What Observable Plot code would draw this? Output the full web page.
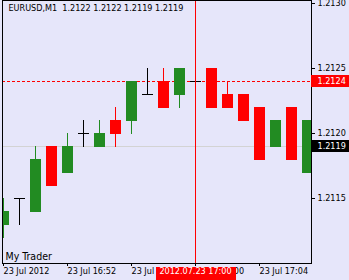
<!DOCTYPE html>
<html>
<head>
<meta charset="utf-8">
<script src="https://cdn.jsdelivr.net/npm/d3@7"></script>
<script src="https://cdn.jsdelivr.net/npm/@observablehq/plot@0.6"></script>
<style>
  html, body { margin: 0; padding: 0; background: #E6E6FA; }
  #chart svg { display: block; }
</style>
</head>
<body>
<div id="chart"></div>
<script>
// ---- data ----
const day = "2012-07-23";
const times = ["16:48","16:49","16:50","16:51","16:52","16:53","16:54","16:55","16:56","16:57",
               "16:58","16:59","17:00","17:01","17:02","17:03","17:04","17:05","17:06","17:07"];
const open  = [1.2113,1.2115,1.2114,1.2119,1.2117,1.2120,1.2119,1.2121,1.2121,1.2123,
               1.2124,1.2123,1.2124,1.2125,1.2123,1.2123,1.2122,1.2119,1.2122,1.2117];
const high  = [1.2115,1.2115,1.2119,1.2119,1.2120,1.2121,1.2121,1.2122,1.2124,1.2125,
               1.2125,1.2125,1.2124,1.2125,1.2124,1.2123,1.2122,1.2121,1.2122,1.2121];
const low   = [1.2112,1.2113,1.2114,1.2116,1.2117,1.2119,1.2119,1.2119,1.2120,1.2123,
               1.2122,1.2122,1.2124,1.2122,1.2122,1.2121,1.2118,1.2119,1.2118,1.2117];
const close = [1.2114,1.2115,1.2118,1.2116,1.2119,1.2120,1.2120,1.2120,1.2124,1.2123,
               1.2122,1.2125,1.2124,1.2122,1.2122,1.2121,1.2118,1.2121,1.2118,1.2121];
const yTicks = [1.2115, 1.2120, 1.2125, 1.2130];
const xTickTimes  = ["16:48","16:52","16:56","17:00","17:04"];
const xTickLabels = ["23 Jul 2012","23 Jul 16:52","23 Jul 16:56","23 Jul 17:00","23 Jul 17:04"];
const headerText = "EURUSD,M1  1.2122 1.2122 1.2119 1.2119";
const watermark = "My Trader";
const redLevel = 1.2124;   // dashed red line + red price label
const grayLevel = 1.2119;  // gray line + black price label
const cursorTime = "17:00";
const cursorLabel = "2012.07.23 17:00";
const yDomain = [1.2110, 1.2130];

// ---- build ----
const T = s => new Date(`${day}T${s}:00Z`);
const candles = times.map((t, i) => ({t: T(t), o: open[i], h: high[i], l: low[i], c: close[i]}));
const UP = "#228B22", DOWN = "#FF0000", FLAT = "#000000";
const color = d => d.c > d.o ? UP : d.c < d.o ? DOWN : FLAT;
const fmt = d3.format(".4f");
const labelMap = new Map(xTickTimes.map((s, i) => [+T(s), xTickLabels[i]]));
const crisp = {shapeRendering: "crispEdges"};

const W = 349, H = 280, mL = 2, mR = 38, mT = 0, mB = 17;

const chart = Plot.plot({
  width: W, height: H,
  marginLeft: mL, marginRight: mR, marginTop: mT, marginBottom: mB,
  style: {background: "#E6E6FA", fontFamily: "'DejaVu Sans Condensed', 'DejaVu Sans', sans-serif", fontStretch: "condensed", fontSize: "9px", color: "#000"},
  x: {type: "utc", domain: [T(times[0]), T(times[times.length - 1])], range: [3, 307]},
  y: {domain: yDomain, range: [263, 3]},
  marks: [
    Plot.ruleY([grayLevel], {stroke: "#D3D3D3", ...crisp}),
    Plot.ruleY([redLevel], {stroke: "#FF0000", strokeDasharray: "3,2", ...crisp}),
    // wicks
    Plot.ruleX(candles, {x: "t", y1: "h", y2: "l", stroke: color, insetBottom: -1, ...crisp}),
    // bodies
    Plot.ruleX(candles, {x: "t", y1: d => Math.max(d.o, d.c), y2: d => Math.min(d.o, d.c),
      stroke: color, strokeWidth: 11, insetBottom: -1, clip: true, ...crisp}),
    // crosshair
    Plot.ruleX([T(cursorTime)], {stroke: "#FF0000", ...crisp}),
    Plot.frame({stroke: "#000", ...crisp}),
    Plot.axisY({anchor: "right", ticks: yTicks, tickSize: 3, tickPadding: 3, tickFormat: fmt, label: null, fill: "#000", ...crisp}),
    Plot.axisX({ticks: xTickTimes.map(T), tickSize: 3, tickPadding: 1, tickFormat: d => labelMap.get(+d),
      textAnchor: "start", label: null, fill: "#000", ...crisp}),
    // price labels on the right axis
    Plot.ruleY([redLevel], {stroke: "#FF0000", strokeWidth: 12, dy: -0.5, insetLeft: W - mR - mL, insetRight: -mR, ...crisp}),
    Plot.text([redLevel], {y: d => d, text: d => fmt(d), frameAnchor: "right", dx: 6, textAnchor: "start", fill: "#fff"}),
    Plot.ruleY([grayLevel], {stroke: "#000", strokeWidth: 12, dy: -0.5, insetLeft: W - mR - mL, insetRight: -mR, ...crisp}),
    Plot.text([grayLevel], {y: d => d, text: d => fmt(d), frameAnchor: "right", dx: 6, textAnchor: "start", fill: "#fff"}),
    // crosshair time label
    Plot.ruleX([T(cursorTime)], {stroke: "#FF0000", strokeWidth: 80, insetTop: 267, insetBottom: -mB, ...crisp}),
    Plot.text([T(cursorTime)], {x: d => d, text: () => cursorLabel, frameAnchor: "bottom", dy: 10, fill: "#fff"}),
    // header & watermark
    Plot.text([headerText], {text: d => d, frameAnchor: "top-left", dx: 6, dy: 4, lineAnchor: "top", fill: "#000"}),
    Plot.text([watermark], {text: d => d, frameAnchor: "bottom-left", dx: 3, dy: -4, lineAnchor: "bottom", fontSize: 10.5, fill: "#000"})
  ]
});
document.getElementById("chart").append(chart);
</script>
</body>
</html>
